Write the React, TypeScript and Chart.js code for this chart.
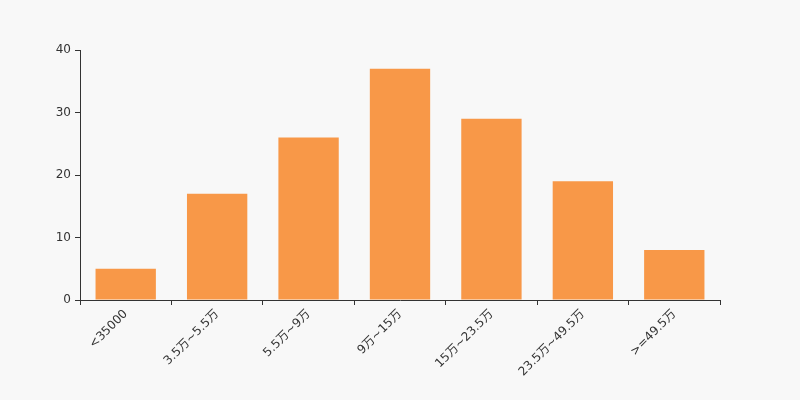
import { useEffect, useRef } from "react";
import { Chart, registerables } from "chart.js";

Chart.register(...registerables);

const categories = ["<35000", "3.5万~5.5万", "5.5万~9万", "9万~15万", "15万~23.5万", "23.5万~49.5万", ">=49.5万"];
const counts = [5, 17, 26, 37, 29, 19, 8];
const yTicks = [0, 10, 20, 30, 40];

const FONT = "'DejaVu Sans', 'Noto Sans CJK SC', sans-serif";
const INK = "#333";

export default function App() {
  const canvasRef = useRef<HTMLCanvasElement>(null);
  const chartRef = useRef<Chart | null>(null);

  useEffect(() => {
    if (!canvasRef.current) return;
    if (chartRef.current) chartRef.current.destroy();

    chartRef.current = new Chart(canvasRef.current, {
      type: "bar",
      data: {
        labels: categories,
        datasets: [{
          data: counts,
          backgroundColor: "#f89848",
          borderWidth: 0,
          categoryPercentage: 1,
          barPercentage: 0.66,
        }],
      },
      options: {
        responsive: false,
        animation: false,
        layout: { padding: { top: 50, right: 80, bottom: 0, left: 0 } },
        plugins: { legend: { display: false }, tooltip: { enabled: false } },
        scales: {
          x: {
            grid: { display: true, drawOnChartArea: false, drawTicks: true, tickLength: 5, color: INK, offset: true },
            border: { display: true, color: INK, width: 1 },
            ticks: { color: INK, font: { family: FONT, size: 12 }, minRotation: 45, maxRotation: 45, autoSkip: false, padding: 2 },
            afterFit: (s: any) => { s.height = 100; },
          },
          y: {
            min: yTicks[0],
            max: yTicks[yTicks.length - 1],
            grid: { display: true, drawOnChartArea: false, drawTicks: true, tickLength: 5, color: INK },
            border: { display: true, color: INK, width: 1 },
            ticks: { color: INK, font: { family: FONT, size: 12 }, stepSize: 10, padding: 4 },
            afterFit: (s: any) => { s.width = 80; },
          },
        },
      },
    });

    return () => { chartRef.current?.destroy(); chartRef.current = null; };
  }, []);

  return (
    <div style={{ position: "absolute", left: 0, top: 0, width: 800, height: 400, background: "#f8f8f8" }}>
      <canvas ref={canvasRef} width={800} height={400} />
    </div>
  );
}
